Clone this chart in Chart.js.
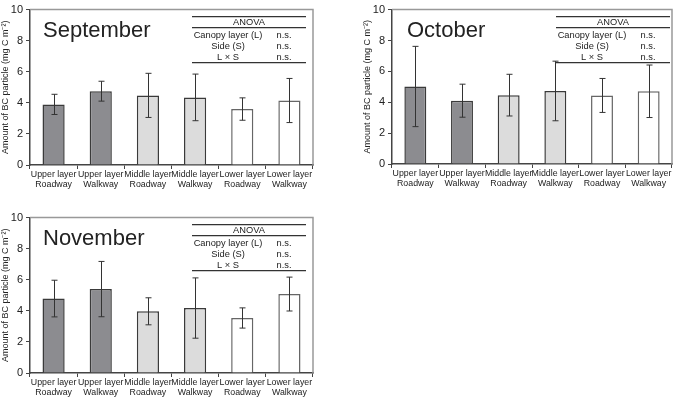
<!DOCTYPE html>
<html>
<head>
<meta charset="utf-8">
<script src="https://cdn.jsdelivr.net/npm/chart.js@4"></script>
<style>
body{margin:0;background:#fff;width:677px;height:397px;position:relative;overflow:hidden;}
canvas{position:absolute;}
</style>
</head>
<body>
<canvas id="sep" width="340" height="200" style="left:0;top:0"></canvas>
<canvas id="oct" width="315" height="200" style="left:362px;top:0"></canvas>
<canvas id="nov" width="340" height="189" style="left:0;top:208px"></canvas>
<script>
// categories on the x axis
const categories = [["Upper layer","Roadway"],["Upper layer","Walkway"],["Middle layer","Roadway"],["Middle layer","Walkway"],["Lower layer","Roadway"],["Lower layer","Walkway"]];
const yTicks = [0,2,4,6,8,10];
// mean and SD
const sepMean = [3.90, 4.75, 4.48, 4.35, 3.60, 4.15];
const sepSD   = [0.65, 0.64, 1.42, 1.50, 0.72, 1.42];
const octMean = [5.02, 4.10, 4.46, 4.73, 4.44, 4.71];
const octSD   = [2.60, 1.07, 1.35, 1.93, 1.10, 1.70];
const novMean = [4.79, 5.40, 3.97, 4.18, 3.54, 5.08];
const novSD   = [1.18, 1.78, 0.87, 1.94, 0.65, 1.09];
// ANOVA table
const anovaTerms = ["Canopy layer (L)","Side (S)","L \u00d7 S"];
const sepAnova = ["n.s.","n.s.","n.s."];
const octAnova = ["n.s.","n.s.","n.s."];
const novAnova = ["n.s.","n.s.","n.s."];

const fills = ['#8c8c90','#8c8c90','#dcdcdc','#dcdcdc','#ffffff','#ffffff'];
const borders = ['#3a3a3a','#3a3a3a','#3a3a3a','#3a3a3a','#666666','#666666'];
const FONT = "'Liberation Sans', Arial, sans-serif";

//draws error bars, frame, month name and the anova table
const extras = {
  id:'extras',
  afterDatasetsDraw(chart, args, opt){
    const ctx = chart.ctx, a = chart.chartArea, y = chart.scales.y;
    const meta = chart.getDatasetMeta(0);
    ctx.save();
    ctx.strokeStyle = '#333'; ctx.lineWidth = 1;
    meta.data.forEach((bar,i)=>{
      const m = opt.mean[i], s = opt.sd[i];
      const x = Math.round(bar.x)+0.5;
      const yt = y.getPixelForValue(m+s), yb = y.getPixelForValue(m-s);
      ctx.beginPath();
      ctx.moveTo(x,yt); ctx.lineTo(x,yb);
      ctx.moveTo(x-3,yt); ctx.lineTo(x+3,yt);
      ctx.moveTo(x-3,yb); ctx.lineTo(x+3,yb);
      ctx.stroke();
    });
    // frame top and right
    ctx.strokeStyle = '#999'; ctx.lineWidth = 1.5;
    ctx.beginPath();
    ctx.moveTo(a.left,a.top); ctx.lineTo(a.right,a.top); ctx.lineTo(a.right,a.bottom);
    ctx.stroke();
    // month
    ctx.fillStyle = '#222';
    ctx.font = '22px ' + FONT;
    ctx.textAlign = 'left'; ctx.textBaseline = 'alphabetic';
    ctx.fillText(opt.title, a.left+opt.titleX, a.top+27);
    // anova table
    const tr = a.right - opt.tableRight, tl = tr - 114;
    ctx.strokeStyle = '#333'; ctx.lineWidth = 1.3;
    [7,18,53].forEach(dy=>{
      ctx.beginPath(); ctx.moveTo(tl,a.top+dy); ctx.lineTo(tr,a.top+dy); ctx.stroke();
    });
    ctx.font = '9.3px ' + FONT;
    ctx.textAlign = 'center'; ctx.textBaseline = 'middle';
    ctx.fillText('ANOVA', (tl+tr)/2, a.top+12.5);
    anovaTerms.forEach((t,i)=>{
      ctx.fillText(t, tl+36, a.top+26+i*11);
      ctx.fillText(opt.result[i], tl+92, a.top+26+i*11);
    });
    ctx.restore();
  }
};

function makeChart(id, mean, sd, result, title, pad, titleX, tableRight){
  new Chart(document.getElementById(id), {
    type:'bar',
    data:{
      labels:categories,
      datasets:[{
        data:mean,
        backgroundColor:fills,
        borderColor:borders,
        borderWidth:1.5,
        barPercentage:0.47,
        categoryPercentage:1
      }]
    },
    options:{
      responsive:false,
      animation:false,
      layout:{padding:pad},
      plugins:{
        legend:{display:false},
        tooltip:{enabled:false},
        extras:{mean, sd, result, title, titleX, tableRight}
      },
      scales:{
        x:{
          grid:{display:true, drawOnChartArea:false, tickLength:4, color:'#444', offset:true},
          border:{color:'#444', width:1.5},
          ticks:{color:'#222', font:{family:FONT, size:8.8, lineHeight:1.08}, padding:1, maxRotation:0, autoSkip:false},
          afterFit(s){ s.height = pad.xh; }
        },
        y:{
          min:0, max:10,
          afterBuildTicks(s){ s.ticks = yTicks.map(v=>({value:v})); },
          grid:{display:true, drawOnChartArea:false, tickLength:4, color:'#444'},
          border:{color:'#444', width:1.5},
          ticks:{color:'#222', font:{family:FONT, size:11}, padding:3},
          title:{display:true, text:'Amount of BC particle (mg C m\u207b\u00b2)', color:'#222', font:{family:FONT, size:9}, padding:{top:0,bottom:2}},
          afterFit(s){ s.width = pad.yw; }
        }
      }
    },
    plugins:[extras]
  });
}

makeChart('sep', sepMean, sepSD, sepAnova, 'September', {left:0, right:27, top:5, bottom:0, xh:35, yw:30}, 13, 7);
makeChart('oct', octMean, octSD, octAnova, 'October', {left:0, right:5, top:5, bottom:0, xh:36, yw:30}, 15, 2);
makeChart('nov', novMean, novSD, novAnova, 'November', {left:0, right:27, top:5, bottom:0, xh:24, yw:30}, 13, 7);
</script>
</body>
</html>
